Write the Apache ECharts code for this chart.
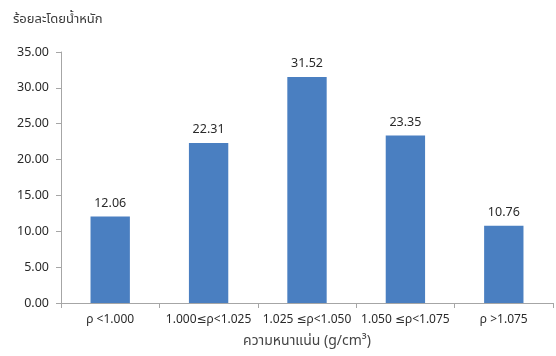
<!DOCTYPE html>
<html>
<head>
<meta charset="utf-8">
<script src="https://cdn.jsdelivr.net/npm/echarts@6/dist/echarts.min.js"></script>
<style>
  html, body { margin: 0; padding: 0; background: #fff; }
  #chart { width: 556px; height: 356px; }
</style>
</head>
<body>
<div id="chart"></div>
<script>
var categories = ['ρ <1.000', '1.000≤ρ<1.025', '1.025 ≤ρ<1.050', '1.050 ≤ρ<1.075', 'ρ >1.075'];
var values = [12.06, 22.31, 31.52, 23.35, 10.76];

var font = '"Noto Sans", "Noto Sans Thai", "DejaVu Sans", sans-serif';

var chart = echarts.init(document.getElementById('chart'));
chart.setOption({
  animation: false,
  textStyle: { fontFamily: font },
  title: {
    text: 'ร้อยละโดยน้ำหนัก',
    left: 8,
    top: 8,
    textStyle: { fontSize: 13, fontWeight: 'normal', color: '#3a3a3a', fontFamily: font }
  },
  grid: { left: 61, right: 3, top: 52, bottom: 53 },
  xAxis: {
    type: 'category',
    data: categories,
    name: 'ความหนาแน่น (g/cm³)',
    nameLocation: 'middle',
    nameGap: 31,
    nameTextStyle: { fontSize: 14, color: '#444' },
    axisLine: { lineStyle: { color: '#a6a6a6' } },
    axisTick: { show: true, lineStyle: { color: '#a6a6a6' } },
    axisLabel: { color: '#2a2a2a', fontSize: 12, margin: 11, interval: 0 }
  },
  yAxis: {
    type: 'value',
    min: 0,
    max: 35,
    interval: 5,
    axisLine: { show: true, lineStyle: { color: '#a6a6a6' } },
    axisTick: { show: true, lineStyle: { color: '#a6a6a6' } },
    splitLine: { show: false },
    axisLabel: {
      color: '#2a2a2a',
      fontSize: 12.5,
      margin: 12,
      formatter: function (v) { return v.toFixed(2); }
    }
  },
  series: [{
    type: 'bar',
    data: values,
    barWidth: '40%',
    itemStyle: { color: '#4a7fc1' },
    label: {
      show: true,
      position: 'top',
      distance: 7,
      color: '#2a2a2a',
      fontSize: 12.5,
      formatter: function (p) { return p.value.toFixed(2); }
    }
  }]
});
</script>
</body>
</html>
